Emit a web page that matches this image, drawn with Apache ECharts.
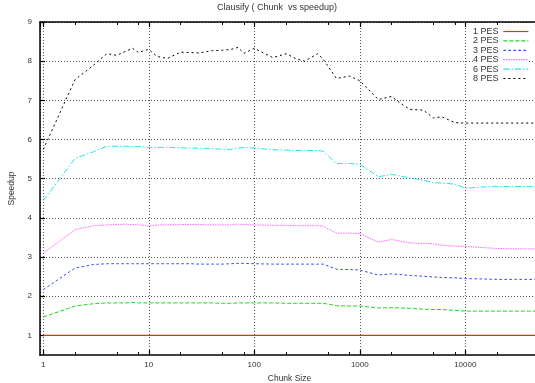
<!DOCTYPE html>
<html><head><meta charset="utf-8">
<script src="https://cdn.jsdelivr.net/npm/echarts@6/dist/echarts.min.js"></script>
<style>html,body{margin:0;padding:0;background:#fff}#c{width:535px;height:383px}</style>
</head><body><div id="c"></div>
<script>
const chunkSizes = [1,2,3,4,5,6,7,8,9,10,12,15,20,25,30,40,50,60,70,80,100,150,200,250,300,400,450,600,800,1000,1500,2000,2500,3000,4000,5000,6000,8000,10000,15000,20000,30000,40000,50000];
const pes1 = [1,1,1,1,1,1,1,1,1,1,1,1,1,1,1,1,1,1,1,1,1,1,1,1,1,1,1,1,1,1,1,1,1,1,1,1,1,1,1,1,1,1,1,1];
const pes2 = [1.47,1.75,1.81,1.83,1.83,1.83,1.84,1.83,1.83,1.83,1.83,1.83,1.83,1.83,1.83,1.83,1.82,1.82,1.83,1.83,1.83,1.83,1.82,1.82,1.82,1.82,1.82,1.76,1.75,1.75,1.70,1.71,1.70,1.69,1.67,1.66,1.66,1.64,1.62,1.62,1.62,1.62,1.62,1.62];
const pes3 = [2.17,2.72,2.81,2.83,2.83,2.83,2.83,2.83,2.83,2.83,2.83,2.83,2.83,2.83,2.82,2.82,2.82,2.83,2.84,2.84,2.83,2.82,2.82,2.82,2.82,2.82,2.82,2.69,2.68,2.67,2.54,2.57,2.55,2.53,2.51,2.49,2.48,2.47,2.45,2.44,2.43,2.43,2.43,2.43];
const pes4 = [3.10,3.70,3.80,3.82,3.83,3.84,3.83,3.82,3.81,3.79,3.82,3.82,3.83,3.83,3.83,3.82,3.82,3.82,3.84,3.83,3.82,3.81,3.81,3.80,3.80,3.80,3.79,3.61,3.61,3.60,3.38,3.45,3.40,3.36,3.35,3.34,3.30,3.28,3.27,3.24,3.22,3.21,3.21,3.21];
const pes6 = [4.44,5.52,5.69,5.83,5.83,5.83,5.82,5.82,5.81,5.80,5.80,5.80,5.79,5.78,5.78,5.77,5.75,5.75,5.78,5.80,5.78,5.74,5.73,5.72,5.72,5.72,5.70,5.39,5.39,5.37,5.05,5.11,5.06,5.02,4.96,4.90,4.89,4.86,4.76,4.79,4.80,4.80,4.80,4.79];
const pes8 = [5.75,7.53,7.90,8.19,8.15,8.25,8.33,8.22,8.27,8.30,8.12,8.07,8.23,8.22,8.21,8.27,8.28,8.30,8.35,8.20,8.33,8.09,8.19,8.06,8.00,8.19,8.05,7.56,7.62,7.50,7.02,7.10,6.90,6.77,6.75,6.55,6.58,6.43,6.42,6.42,6.42,6.42,6.42,6.42];
const seriesNames = ['1 PES','2 PES','3 PES','4 PES','6 PES','8 PES'];
const yTicks = [1,2,3,4,5,6,7,8,9];
const xMinorTicks = [2,5,8,20,50,80,200,500,800,2000,5000,8000,20000];

const allSeries = [pes1,pes2,pes3,pes4,pes6,pes8];
const colors = ['#f02a10','#1ed81e','#2a48ff','#ff66ff','#22e6e6','#000000'];
const dashes = ['solid',[4,2],[2.5,2.5],[1.5,1],[6,2,1.5,2],[2,3]];
const font = 'Liberation Sans, Arial, sans-serif';
const XMIN = 0.93, XMAX = 50000;

const chart = echarts.init(document.getElementById('c'));
const series = allSeries.map((vals, i) => ({
  name: seriesNames[i],
  type: 'line',
  xAxisIndex: 0,
  yAxisIndex: 0,
  symbol: 'none',
  showSymbol: false,
  animation: false,
  data: vals.map((v, j) => [chunkSizes[j], v]),
  lineStyle: {color: colors[i], width: i === 0 ? 1.3 : 1, type: dashes[i]},
  itemStyle: {color: colors[i]},
  z: 10 - i
}));

const gridLine = {show: true, lineStyle: {color: '#555', type: [1,2], width: 1}};
chart.setOption({
  animation: false,
  backgroundColor: '#fff',
  title: {
    text: 'Clausify ( Chunk  vs speedup)',
    left: 217, top: 3, padding: 0,
    textStyle: {fontFamily: font, fontSize: 9, fontWeight: 'normal', color: '#333'}
  },
  legend: {
    orient: 'vertical', right: 6, top: 27, align: 'right', padding: 0,
    itemWidth: 25, itemHeight: 8, itemGap: 0.4,
    data: seriesNames,
    itemStyle: {opacity: 0},
    lineStyle: {width: 1.2, color: 'inherit', type: 'inherit', opacity: 'inherit'},
    textStyle: {fontFamily: font, fontSize: 9, color: '#333', lineHeight: 8},
    backgroundColor: '#fff'
  },
  grid: {left: 40, right: -4, top: 22, bottom: 28, containLabel: false, outerBoundsMode: 'none'},
  xAxis: [
    {
      type: 'log', logBase: 10, min: XMIN, max: XMAX, position: 'bottom',
      name: 'Chunk Size', nameLocation: 'middle', nameGap: 18,
      nameTextStyle: {fontFamily: font, fontSize: 8.5, color: '#333'},
      axisLine: {show: true, lineStyle: {color: '#000', width: 1.5}},
      axisTick: {show: true, inside: true, length: 5, lineStyle: {color: '#000', width: 1.2}},
      axisLabel: {fontFamily: font, fontSize: 8, color: '#333', margin: 6, showMinLabel: false, showMaxLabel: false,
        formatter: v => String(Math.round(v))},
      splitLine: gridLine
    },
    {
      type: 'log', logBase: 10, min: XMIN, max: XMAX, position: 'top',
      axisLine: {show: true, lineStyle: {color: '#000', width: 1.5}},
      axisTick: {show: true, inside: true, length: 5, lineStyle: {color: '#000', width: 1.2}},
      axisLabel: {show: false},
      splitLine: {show: false}
    },
    {
      type: 'log', logBase: 10, min: XMIN, max: XMAX, position: 'bottom',
      axisLine: {show: false},
      axisTick: {show: true, inside: true, length: 3, customValues: xMinorTicks, lineStyle: {color: '#000', width: 1}},
      axisLabel: {show: false, customValues: xMinorTicks},
      splitLine: {show: false}
    },
    {
      type: 'log', logBase: 10, min: XMIN, max: XMAX, position: 'top',
      axisLine: {show: false},
      axisTick: {show: true, inside: true, length: 3, customValues: xMinorTicks, lineStyle: {color: '#000', width: 1}},
      axisLabel: {show: false, customValues: xMinorTicks},
      splitLine: {show: false}
    }
  ],
  yAxis: [{
    type: 'value', min: 0.5, max: 9, position: 'left',
    name: 'Speedup', nameLocation: 'middle', nameGap: 23, nameRotate: 90,
    nameTextStyle: {fontFamily: font, fontSize: 8.5, color: '#333'},
    axisLine: {show: true, lineStyle: {color: '#000', width: 1.5}},
    axisTick: {show: true, inside: true, length: 5, customValues: yTicks, lineStyle: {color: '#000', width: 1.2}},
    axisLabel: {fontFamily: font, fontSize: 8, color: '#333', margin: 8, customValues: yTicks},
    splitLine: gridLine
  }],
  series: series
});
</script></body></html>
